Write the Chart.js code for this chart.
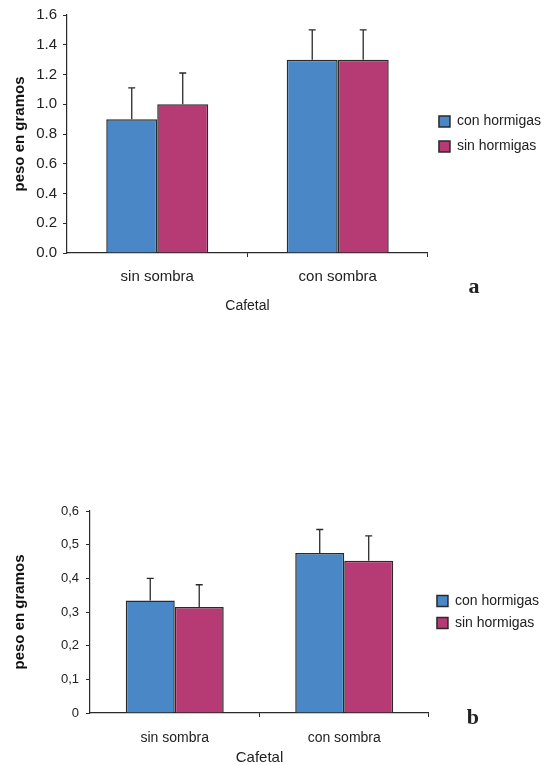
<!DOCTYPE html>
<html lang="es">
<head>
<meta charset="utf-8">
<title>Peso en gramos - Cafetal</title>
<script src="https://cdn.jsdelivr.net/npm/chart.js@4.4.1/dist/chart.umd.min.js"></script>
<style>
  body { margin: 0; background: #fff; overflow: hidden; }
  canvas { position: absolute; left: 0; }
  #graficaA { top: 0; }
  #graficaB { top: 488px; }
</style>
</head>
<body>
<canvas id="graficaA" width="555" height="330"></canvas>
<canvas id="graficaB" width="555" height="279"></canvas>
<script>
//? DATOS

const categorias = ["sin sombra", "con sombra"];
const series = ["con hormigas", "sin hormigas"];

// grafica a
const conHormigasA = [0.9, 1.3];
const sinHormigasA = [1.0, 1.3];
const errorConA = [0.21, 0.2];
const errorSinA = [0.21, 0.2];
const ticksA = ["0.0", "0.2", "0.4", "0.6", "0.8", "1.0", "1.2", "1.4", "1.6"];

// grafica b
const conHormigasB = [0.334, 0.475];
const sinHormigasB = [0.315, 0.452];
const errorConB = [0.066, 0.07];
const errorSinB = [0.066, 0.074];
const ticksB = ["0", "0,1", "0,2", "0,3", "0,4", "0,5", "0,6"];

const azul = "#4a87c6";
const magenta = "#b63a73";
const tinta = "#2a2a2a";
const fuente = "'Liberation Sans', Arial, sans-serif";

//? PLUGIN BARRAS DE ERROR (solo hacia arriba)

const barrasError = {
  id: "barrasError",
  afterDatasetsDraw(chart) {
    const { ctx, scales: { y } } = chart;
    ctx.save();
    ctx.strokeStyle = tinta;
    ctx.lineWidth = 1.3;
    chart.data.datasets.forEach((ds, i) => {
      chart.getDatasetMeta(i).data.forEach((bar, j) => {
        const yTop = y.getPixelForValue(ds.data[j] + ds.errores[j]);
        ctx.beginPath();
        ctx.moveTo(bar.x, bar.y);
        ctx.lineTo(bar.x, yTop);
        ctx.moveTo(bar.x - 3.5, yTop);
        ctx.lineTo(bar.x + 3.5, yTop);
        ctx.stroke();
      });
    });
    ctx.restore();
  },
};

//? PLUGIN LETRA DEL PANEL

const letra = {
  id: "letra",
  afterDraw(chart, args, opts) {
    const { ctx, chartArea } = chart;
    ctx.save();
    ctx.font = "bold 22px 'Liberation Serif', 'DejaVu Serif', serif";
    ctx.fillStyle = "#222";
    ctx.textAlign = "center";
    ctx.textBaseline = "middle";
    ctx.fillText(opts.texto, chartArea.right + opts.dx, chartArea.bottom + opts.dy);
    ctx.restore();
  },
};

//? FUNCION QUE CREA CADA GRAFICA

function crearGrafica(id, p) {
  return new Chart(id, {
    type: "bar",
    data: {
      labels: categorias,
      datasets: [
        {
          label: series[0],
          data: p.con,
          errores: p.errCon,
          backgroundColor: azul,
          borderColor: tinta,
          borderWidth: 1.5,
          categoryPercentage: p.anchoCat,
          barPercentage: 1,
        },
        {
          label: series[1],
          data: p.sin,
          errores: p.errSin,
          backgroundColor: magenta,
          borderColor: tinta,
          borderWidth: 1.5,
          categoryPercentage: p.anchoCat,
          barPercentage: 1,
        },
      ],
    },
    options: {
      responsive: false,
      animation: false,
      layout: { padding: { top: p.padTop, right: p.padRight, bottom: p.padBottom, left: 0 } },
      plugins: {
        tooltip: { enabled: false },
        legend: {
          position: "right",
          align: "center",
          fullSize: false,
          labels: {
            boxWidth: 11,
            boxHeight: 11,
            padding: p.legPad,
            color: "#222",
            font: { family: fuente, size: 14 },
          },
        },
        letra: { texto: p.letra, dx: p.letraDx, dy: p.letraDy },
      },
      scales: {
        x: {
          afterFit: (scale) => {
            scale.height = p.altoEjeX;
          },
          grid: {
            drawOnChartArea: false,
            tickLength: 4,
            color: (c) => (c.index === 0 ? "rgba(0,0,0,0)" : tinta),
          },
          border: { display: true, color: tinta, width: 1.2 },
          ticks: { color: "#222", padding: p.xTickPad, font: { family: fuente, size: p.tamX } },
          title: {
            display: true,
            text: "Cafetal",
            color: "#222",
            font: { family: fuente, size: p.tamTitulo },
            padding: { top: 0, bottom: 0 },
          },
        },
        y: {
          min: 0,
          max: p.max,
          afterFit: (scale) => {
            scale.width = p.anchoEje;
          },
          grid: { drawOnChartArea: false, tickLength: 4, color: tinta },
          border: { display: true, color: tinta, width: 1.2 },
          ticks: {
            stepSize: p.paso,
            padding: p.yTickPad,
            color: "#222",
            font: { family: fuente, size: p.tamY },
            callback: (v, i) => p.ticks[i],
          },
          title: {
            display: true,
            text: "peso en gramos",
            color: "#111",
            font: { family: fuente, size: 15, weight: "bold" },
            padding: { top: 11, bottom: 0 },
          },
        },
      },
    },
    plugins: [barrasError, letra],
  });
}

//? GRAFICA a

crearGrafica("graficaA", {
  con: conHormigasA,
  sin: sinHormigasA,
  errCon: errorConA,
  errSin: errorSinA,
  ticks: ticksA,
  max: 1.6,
  paso: 0.2,
  tamX: 15,
  tamY: 15,
  tamTitulo: 14,
  anchoCat: 0.565,
  anchoEje: 67,
  altoEjeX: 62,
  padTop: 15,
  padRight: 4,
  padBottom: 15,
  legPad: 11,
  xTickPad: 11,
  yTickPad: 6,
  letra: "a",
  letraDx: 46,
  letraDy: 34,
});

//? GRAFICA b

crearGrafica("graficaB", {
  con: conHormigasB,
  sin: sinHormigasB,
  errCon: errorConB,
  errSin: errorSinB,
  ticks: ticksB,
  max: 0.6,
  paso: 0.1,
  tamX: 14,
  tamY: 13,
  tamTitulo: 15,
  anchoCat: 0.578,
  anchoEje: 90,
  altoEjeX: 54,
  padTop: 23,
  padRight: 6,
  padBottom: 0,
  legPad: 8,
  xTickPad: 13,
  yTickPad: 7,
  letra: "b",
  letraDx: 44,
  letraDy: 5,
});
</script>
</body>
</html>
